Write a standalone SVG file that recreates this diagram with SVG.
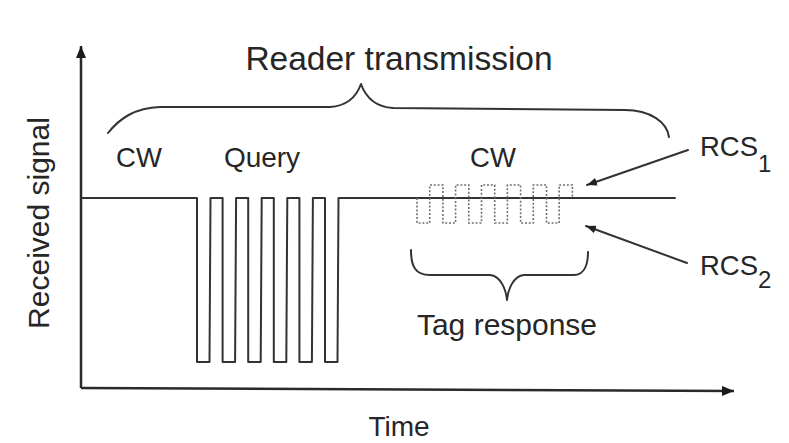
<svg xmlns="http://www.w3.org/2000/svg" width="789" height="443" viewBox="0 0 789 443">
  <style>
    .ln { fill: none; stroke: #333; stroke-width: 2; stroke-linejoin: round; stroke-linecap: round; }
    .axis { fill: none; stroke: #2a2a2a; stroke-width: 2.5; }
    .dot { fill: none; stroke: #707070; stroke-width: 1.6; stroke-dasharray: 2 1.8; }
    .lbl { font-family: "Liberation Sans", Arial, sans-serif; fill: #262626; }
  </style>
  <defs>
    <marker id="tri" viewBox="0 0 10 8" refX="10" refY="4" markerWidth="10" markerHeight="8" markerUnits="userSpaceOnUse" orient="auto">
      <path d="M0,0 L10,4 L0,8 Z" fill="#222"/>
    </marker>
    <marker id="axtip" viewBox="0 0 12 10" refX="12" refY="5" markerWidth="12" markerHeight="10" markerUnits="userSpaceOnUse" orient="auto">
      <path d="M0,0 L12,5 L0,10 Z" fill="#1a1a1a"/>
    </marker>
  </defs>

  <rect width="789" height="443" fill="#fff"/>

  <!-- axes -->
  <g id="axes">
    <path class="axis" d="M81,388 L81,46" marker-end="url(#axtip)"/>
    <path class="axis" d="M81,388 L734,391" marker-end="url(#axtip)"/>
  </g>

  <!-- reader carrier with query pulses -->
  <g id="reader-signal">
    <path class="ln" d="M82,198 L197,198 L197,362 L209.5,362 L210.5,198
      L222.6,198 L222.6,362 L235.1,362 L236.1,198
      L248.2,198 L248.2,362 L260.7,362 L261.7,198
      L273.8,198 L273.8,362 L286.3,362 L287.3,198
      L299.4,198 L299.4,362 L311.9,362 L312.9,198
      L325,198 L325,362 L337.5,362 L338.5,198 L675,198"/>
  </g>

  <!-- tag backscatter (dotted) -->
  <g id="tag-signal">
    <path class="dot" d="M417,198 L417,223 L429.7,223 L429.7,185 L442.9,185
      L442.9,223 L455.6,223 L455.6,185 L468.8,185
      L468.8,223 L481.5,223 L481.5,185 L494.7,185
      L494.7,223 L507.4,223 L507.4,185 L520.6,185
      L520.6,223 L533.3,223 L533.3,185 L546.5,185
      L546.5,223 L559.2,223 L559.2,185 L572.4,185 L572.4,198"/>
  </g>

  <!-- braces -->
  <g id="brace-reader">
    <path class="ln" d="M108,133 C120,118 135,108 160,107 L330,107 C346,106 356,98 361,84 C366,98 377,107 393,108 L625,110 C650,110 667,122 669,137"/>
  </g>
  <g id="brace-tag">
    <path class="ln" d="M411,250 C411,266 415,275 430,275 L490,275 C501,276 506,290 507,300 C508,290 513,276 524,275 L574,275 C585,275 588,263 588,252"/>
  </g>

  <!-- pointers to RCS levels -->
  <g id="connectors">
    <path class="ln" d="M688,150 L587,185" marker-end="url(#tri)"/>
    <path class="ln" d="M687,263 L586,226" marker-end="url(#tri)"/>
  </g>

  <!-- labels -->
  <g id="label-reader"><text class="lbl" x="399" y="70" font-size="33.5" text-anchor="middle">Reader transmission</text></g>
  <g id="label-cw1"><text class="lbl" x="139" y="167" font-size="27.5" text-anchor="middle">CW</text></g>
  <g id="label-query"><text class="lbl" x="262" y="167" font-size="28" text-anchor="middle">Query</text></g>
  <g id="label-cw2"><text class="lbl" x="493" y="167" font-size="27.5" text-anchor="middle">CW</text></g>
  <g id="label-rcs1"><text class="lbl" x="700" y="156" font-size="27.5">RCS<tspan font-size="24" dy="16">1</tspan></text></g>
  <g id="label-rcs2"><text class="lbl" x="700" y="275" font-size="27.5">RCS<tspan font-size="24" dy="13">2</tspan></text></g>
  <g id="label-tag"><text class="lbl" x="507" y="335" font-size="30" text-anchor="middle">Tag response</text></g>
  <g id="label-time"><text class="lbl" x="399" y="436" font-size="28" text-anchor="middle">Time</text></g>
  <g id="label-received"><text class="lbl" x="0" y="0" font-size="30" text-anchor="middle" transform="translate(49,223) rotate(-90)">Received signal</text></g>
</svg>
